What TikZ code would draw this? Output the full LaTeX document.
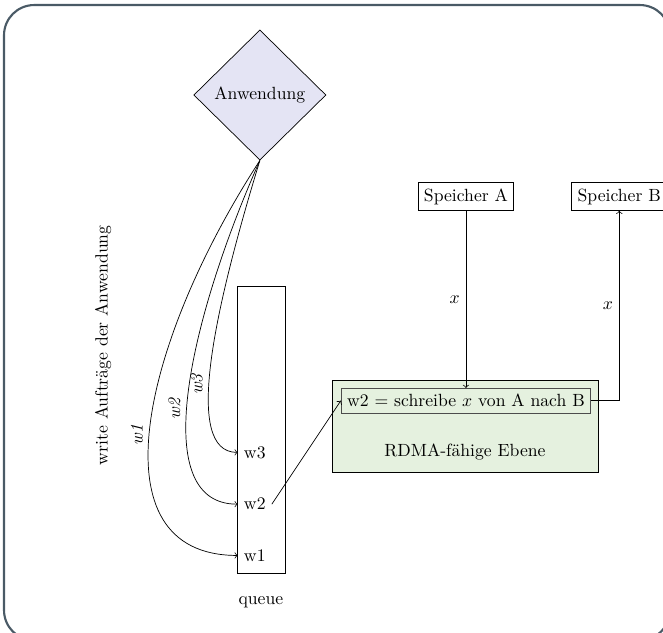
\documentclass[tikz,border=0pt]{standalone}
\usepackage{tikz}
\usetikzlibrary{positioning,shapes.geometric}

\definecolor{appfill}{RGB}{228,228,244}
\definecolor{layerfill}{RGB}{229,241,223}
\definecolor{framecol}{RGB}{74,90,102}

\begin{document}
\begin{tikzpicture}[
		box/.style={draw, rectangle},
		app/.style={draw, diamond, fill=appfill, minimum width=2.63cm, minimum height=2.59cm, inner sep=0pt},
		layer/.style={draw, rectangle, fill=layerfill, minimum width=5.29cm, minimum height=1.83cm},
		wlabel/.style={pos=0.55, rotate=90, anchor=south}]
		\useasboundingbox (0,0) rectangle (13.19,-12.58);
		\draw[framecol, line width=1.2pt, rounded corners=0.6cm] (0.08,-0.10) rectangle (13.33,-12.74);

		\node[app] (app) at (5.17,-1.89) {Anwendung};
		\node[box, minimum width=0.955cm, minimum height=5.71cm] (queue) at (5.19,-8.55) {};
		\node[below=0.33cm of queue] (qlabel) {queue};
		\node[anchor=west] (w3) at (4.73,-9.00) {w3};
		\node[anchor=west] (w2) at (4.73,-10.03) {w2};
		\node[anchor=west] (w1) at (4.73,-11.05) {w1};
		\node[rotate=90] (writes) at (2.05,-6.87) {write Aufträge der Anwendung};

		\node[box] (memA) at (9.27,-3.91) {Speicher A};
		\node[box] (memB) at (12.32,-3.91) {Speicher B};
		\node[layer] (rdma) at (9.25,-8.48) {};
		\node (rdmatext) at (9.25,-9.0) {RDMA-fähige Ebene};
		\node[box, draw=black!70] (task) at (9.27,-7.97) {w2 = schreibe $x$ von A nach B};

		% write requests into the queue
		\draw[->] (app.south) to[out=237, in=180, out distance=4.3cm, in distance=2.9cm] node[wlabel, pos=0.52] {\textit{w1}} (w1.west);
		\draw[->] (app.south) to[out=246, in=180, out distance=3.3cm, in distance=1.85cm] node[wlabel] {\textit{w2}} (w2.west);
		\draw[->] (app.south) to[out=253, in=180, out distance=3.1cm, in distance=1.1cm] node[wlabel, pos=0.57] {\textit{w3}} (w3.west);

		\draw[->] (w2.east) -- (task.west);
		\draw[->] (memA.south) -- node[left] {$x$} (task.north);
		\draw[->] (task.east) -| node[pos=0.75, left] {$x$} (memB.south);
	\end{tikzpicture}
\end{document}
